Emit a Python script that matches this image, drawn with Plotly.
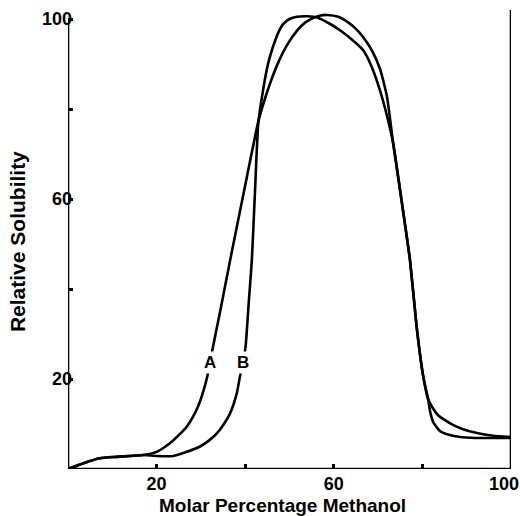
import plotly.graph_objects as go

# Curve A: rises earlier, right-hand arc at the top (peak near 58), gradual tail
a_x = [0, 3.5, 7.2, 11, 14, 17, 20, 22, 23.8, 25.4, 26.8, 28.2, 29.4, 30.4, 31.4, 32.7, 34.5, 36.6, 38.5, 40.5, 42.9,
       44.2, 45.8, 47.4, 49.5, 51.7, 53.5, 55.3, 57, 58.5, 61, 63, 65, 66.6, 68.5, 70.4, 72, 73.4,
       75.6, 77.2, 78.7, 80.2, 81.3, 82.3, 83.5, 85, 86.9, 89, 92.3, 96, 100]
a_y = [0, 1.3, 2.4, 2.7, 2.9, 3.1, 3.8, 5.0, 6.4, 7.9, 9.4, 11.6, 14.0, 16.8, 20.4, 27.0, 35.8, 46.4, 55.7, 65.5, 77.0,
       81.5, 86.2, 90.2, 94.3, 97.4, 99.2, 100.2, 100.8, 100.9, 100.5, 99.4, 97.8, 96.0, 93.2, 89.0, 82.8, 72.4,
       57.6, 46.4, 31.6, 20.5, 15.5, 13.6, 12.0, 10.9, 9.8, 8.9, 8.0, 7.4, 7.1]

# Curve B: rises later and steeply, left-hand arc at the top (flat peak 51-56), sharp tail
b_x = [0, 3.5, 7.2, 11, 14, 17, 20, 23.8, 26.5, 29.8, 31.8, 33.6, 35.2, 36.6, 38.1, 38.8, 39.5, 40.1, 40.8, 41.5, 42.2, 42.95,
       44, 45.1, 46, 47.4, 48.5, 50, 51.7, 54, 56.4, 59, 61.4, 64, 66.6, 68.5, 70.4, 72, 73.4,
       75.6, 77.2, 78.7, 80.2, 81.3, 81.8, 82.5, 84, 86, 88.5, 92, 100]
b_y = [0, 1.3, 2.4, 2.7, 2.9, 3.1, 2.9, 2.9, 3.7, 5.0, 6.3, 7.9, 10.0, 12.4, 16.8, 20.5, 23.6, 27.3, 37.0, 46.4, 61.5, 76.8,
       84.0, 89.8, 93.0, 96.8, 98.8, 100.0, 100.5, 100.6, 100.3, 99.0, 97.5, 95.5, 93.1, 89.5, 84.2, 78.5, 72.4,
       57.6, 46.4, 31.6, 20.5, 15.5, 12.5, 10.3, 8.4, 7.6, 7.1, 6.9, 6.9]

x_ticks = [20, 40, 60, 80, 100]
x_labels = ["20", "", "60", "", ""]
x_end_tick = [100]
x_end_label = ["100"]
y_ticks = [20, 40, 60, 80, 100]
y_labels = ["20", "", "60", "", "100"]

x_title = "Molar Percentage Methanol"
y_title = "Relative Solubility"

fig = go.Figure()
line = dict(color="black", width=2.6, shape="spline", smoothing=0.5)
fig.add_trace(go.Scatter(x=a_x, y=a_y, mode="lines", line=line, name="A"))
fig.add_trace(go.Scatter(x=b_x, y=b_y, mode="lines", line=line, name="B", xaxis="x2"))

tickfont = dict(family="Liberation Sans", size=18, color="black", weight="bold")
fig.update_layout(
    width=520, height=516,
    margin=dict(l=68, r=9, t=1, b=47, autoexpand=False),
    plot_bgcolor="white", paper_bgcolor="white",
    showlegend=False,
    xaxis=dict(range=[0, 100], showgrid=False, zeroline=False, showline=False, automargin=False,
               tickmode="array", tickvals=x_ticks, ticktext=x_labels,
               ticks="inside", ticklen=5, tickwidth=2.5, tickcolor="black",
               ticklabelstandoff=2, tickfont=tickfont),
    xaxis2=dict(range=[0, 100], overlaying="x", anchor="y", side="bottom",
                showgrid=False, zeroline=False, showline=False, automargin=False,
                tickmode="array", tickvals=x_end_tick, ticktext=x_end_label, ticks="",
                ticklabelstandoff=2, ticklabelshift=-7, ticklabeloverflow="allow", tickfont=tickfont),
    yaxis=dict(range=[0, 104], showgrid=False, zeroline=False, showline=False, automargin=False,
               tickmode="array", tickvals=y_ticks, ticktext=y_labels,
               ticks="inside", ticklen=5, tickwidth=2.5, tickcolor="black",
               ticklabelstandoff=-5, ticklabeloverflow="allow", tickfont=tickfont),
)

axis_line = dict(color="black", width=2.6)
fig.add_shape(type="line", x0=0, x1=0, y0=0, y1=100, xref="x", yref="y", line=axis_line)
fig.add_shape(type="line", x0=0, x1=100, y0=0, y1=0, xref="x", yref="y", line=axis_line)
fig.add_shape(type="line", x0=100, x1=100, y0=0, y1=102, xref="x", yref="y", line=axis_line)

lab_font = dict(family="Liberation Sans", size=17, color="black", weight="bold")
fig.add_annotation(x=32.1, y=23.6, text="A", showarrow=False, font=lab_font, bgcolor="white")
fig.add_annotation(x=39.6, y=23.6, text="B", showarrow=False, font=lab_font, bgcolor="white")

fig.add_annotation(xref="paper", yref="paper", x=0.484, y=-0.077, text=x_title, showarrow=False,
                   font=dict(family="Liberation Sans", size=19, color="black", weight="bold"),
                   xanchor="center", yanchor="middle", borderpad=0)
fig.add_annotation(xref="paper", yref="paper", x=-0.115, y=0.485, text=y_title, showarrow=False, textangle=-90,
                   font=dict(family="Liberation Sans", size=21, color="black", weight="bold"),
                   xanchor="center", yanchor="middle")

fig.write_html("out.html", config={"displayModeBar": False},
               post_script="document.body.style.margin='0';")
